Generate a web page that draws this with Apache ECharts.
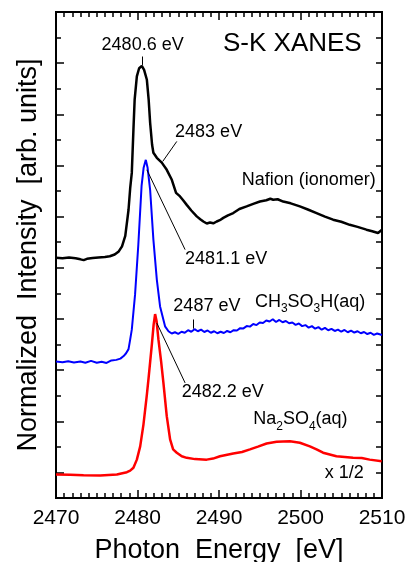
<!DOCTYPE html>
<html>
<head>
<meta charset="utf-8">
<script src="https://cdn.jsdelivr.net/npm/echarts@6/dist/echarts.min.js"></script>
<style>
html, body { margin: 0; padding: 0; background: #fff; }
#container { width: 406px; height: 562px; }
</style>
</head>
<body>
<div id="container"></div>
<script>
/* S-K XANES spectra: [photon energy eV, normalized intensity (offset, 1 unit = one y tick)] */
var nafion = [[2470.0,8.39],[2470.8,8.37],[2471.6,8.40],[2472.4,8.37],[2473.0,8.33],[2473.4,8.30],[2473.8,8.35],[2474.5,8.38],[2475.2,8.40],[2476.0,8.42],[2476.6,8.45],[2477.2,8.52],[2477.7,8.64],[2478.1,8.84],[2478.5,9.25],[2478.9,10.27],[2479.1,11.1],[2479.3,11.71],[2479.5,13.39],[2479.65,14.57],[2479.92,15.48],[2480.2,15.80],[2480.53,15.89],[2480.81,15.74],[2481.15,15.35],[2481.37,14.57],[2481.55,13.67],[2481.79,12.81],[2481.95,12.50],[2482.37,12.30],[2482.98,12.11],[2483.59,11.83],[2484.21,11.44],[2484.73,10.93],[2485.22,10.79],[2485.6,10.64],[2486.04,10.46],[2486.6,10.24],[2487.27,10.01],[2487.7,9.90],[2488.08,9.81],[2488.5,9.73],[2488.9,9.77],[2489.3,9.74],[2489.72,9.81],[2490.1,9.86],[2490.53,9.95],[2491.1,10.05],[2491.75,10.14],[2492.5,10.30],[2493.39,10.40],[2494.2,10.50],[2495.02,10.59],[2495.8,10.64],[2496.3,10.70],[2496.65,10.66],[2497.2,10.68],[2497.88,10.59],[2498.8,10.52],[2499.92,10.40],[2500.9,10.28],[2501.97,10.14],[2503.0,10.00],[2504.0,9.88],[2505.0,9.80],[2506.04,9.68],[2507.0,9.60],[2508.09,9.49],[2508.8,9.43],[2509.51,9.36],[2510.0,9.49]];
var ch3so3h = [[2470.0,4.34],[2470.8,4.31],[2471.5,4.35],[2472.2,4.30],[2473.0,4.34],[2473.6,4.29],[2474.3,4.36],[2475.0,4.29],[2475.6,4.33],[2476.2,4.28],[2476.8,4.38],[2477.4,4.40],[2477.9,4.45],[2478.3,4.55],[2478.6,4.66],[2478.9,4.82],[2479.1,5.19],[2479.3,5.58],[2479.7,6.95],[2480.1,8.90],[2480.5,11.2],[2480.75,11.91],[2481.02,12.22],[2481.24,11.91],[2481.55,11.05],[2481.95,9.10],[2482.37,7.54],[2482.77,6.49],[2483.38,5.71],[2483.8,5.52],[2484.2,5.43],[2484.6,5.48],[2485.0,5.42],[2485.4,5.50],[2485.8,5.46],[2486.2,5.56],[2486.6,5.50],[2487.0,5.60],[2487.4,5.52],[2487.8,5.58],[2488.2,5.49],[2488.6,5.55],[2489.0,5.46],[2489.4,5.52],[2489.8,5.44],[2490.2,5.50],[2490.6,5.45],[2491.0,5.53],[2491.4,5.48],[2491.8,5.56],[2492.2,5.55],[2492.6,5.64],[2493.0,5.63],[2493.4,5.72],[2493.8,5.70],[2494.2,5.80],[2494.6,5.76],[2495.0,5.86],[2495.4,5.84],[2495.8,5.94],[2496.2,5.90],[2496.6,5.99],[2497.0,5.88],[2497.4,5.96],[2497.8,5.87],[2498.2,5.92],[2498.6,5.83],[2499.0,5.86],[2499.4,5.77],[2499.8,5.82],[2500.2,5.72],[2500.6,5.76],[2501.0,5.66],[2501.4,5.72],[2501.8,5.62],[2502.2,5.68],[2502.6,5.58],[2503.0,5.65],[2503.4,5.56],[2503.8,5.61],[2504.2,5.53],[2504.6,5.58],[2505.0,5.50],[2505.4,5.57],[2505.8,5.48],[2506.2,5.54],[2506.6,5.47],[2507.0,5.52],[2507.4,5.44],[2507.8,5.49],[2508.2,5.41],[2508.6,5.46],[2509.0,5.38],[2509.4,5.43],[2510.0,5.37]];
var na2so4 = [[2470.0,-0.08],[2471.75,-0.09],[2473.38,-0.11],[2475.43,-0.12],[2477.47,-0.08],[2478.28,-0.02],[2478.7,0.01],[2479.1,0.07],[2479.5,0.18],[2479.92,0.50],[2480.33,1.02],[2480.73,1.87],[2481.15,3.04],[2481.34,3.63],[2481.76,5.00],[2481.98,5.78],[2482.16,6.19],[2482.35,5.90],[2482.57,5.19],[2482.9,4.33],[2483.18,3.50],[2483.59,2.20],[2484.0,1.29],[2484.37,0.90],[2484.82,0.77],[2485.43,0.63],[2486.04,0.57],[2487.06,0.52],[2488.49,0.50],[2489.27,0.54],[2490.12,0.63],[2491.75,0.74],[2492.82,0.80],[2493.8,0.90],[2494.78,1.01],[2495.84,1.13],[2497.07,1.20],[2498.7,1.22],[2499.92,1.16],[2501.15,1.02],[2501.97,0.90],[2502.77,0.77],[2504.41,0.63],[2506.45,0.57],[2507.51,0.56],[2508.49,0.50],[2509.96,0.44]];

var xTickLabels = [2470, 2480, 2490, 2500, 2510];
var peakLabels = ['2480.6 eV', '2483 eV', '2481.1 eV', '2487 eV', '2482.2 eV'];
var sampleLabels = ['Nafion (ionomer)', 'CH{s|3}SO{s|3}H(aq)', 'Na{s|2}SO{s|4}(aq)', 'x 1/2'];

var FONT = '"Liberation Sans", Arial, sans-serif';
var dom = document.getElementById('container');
var myChart = echarts.init(dom, null, { renderer: 'canvas' });

// 刻度位置（长刻度/短刻度）
function range(a, b, step) {
	var out = [];
	for (var v = a; v <= b; v += step) out.push(v);
	return out;
}
var xMinorTicks = range(2471, 2509, 1).filter(function(v) { return v % 10 !== 0; });
var xMajorTicks = [2480, 2490, 2500];
var yLongTicks = range(0, 16, 2);
var yShortTicks = range(1, 17, 2);
var yAllTicks = range(0, 17, 1);

function curve(name, data, color, width) {
	return {
		name: name,
		type: 'line',
		data: data,
		symbol: 'none',
		lineStyle: { color: color, width: width },
		animation: false
	};
}

function note(text, x, y, align, size) {
	return {
		value: [x, y],
		label: {
			show: true,
			position: 'inside',
			formatter: text,
			align: align || 'left',
			verticalAlign: 'middle',
			color: '#000',
			opacity: 1,
			textBorderWidth: 0,
			fontSize: size || 18,
			fontFamily: FONT,
			rich: {
				s: { fontSize: 12, fontFamily: FONT, color: '#000', textBorderWidth: 0, padding: [14, 0, 0, 0] }
			}
		}
	};
}

function leader(a, b) {
	return [{ coord: a }, { coord: b }];
}

function xAxisOf(position, ticks, len, extra) {
	return Object.assign({
		type: 'value',
		position: position,
		min: 2470,
		max: 2510,
		interval: 10,
		axisLine: { show: true, onZero: false, lineStyle: { color: '#000', width: 2 } },
		axisTick: { show: true, inside: true, length: len, customValues: ticks, lineStyle: { color: '#000', width: 1.5 } },
		axisLabel: { show: false },
		splitLine: { show: false }
	}, extra || {});
}

function yAxisOf(position, ticks, len, extra) {
	return Object.assign({
		type: 'value',
		position: position,
		min: -1,
		max: 18,
		axisLine: { show: true, onZero: false, lineStyle: { color: '#000', width: 2 } },
		axisTick: { show: true, inside: true, length: len, customValues: ticks, lineStyle: { color: '#000', width: 1.5 } },
		axisLabel: { show: false },
		splitLine: { show: false }
	}, extra || {});
}

var option = {
	backgroundColor: '#fff',
	animation: false,
	grid: { left: 56, top: 12, width: 326, height: 486, containLabel: false, outerBoundsMode: 'none' },
	xAxis: [
		xAxisOf('bottom', xMajorTicks, 8, {
			axisLabel: {
				show: true, color: '#000', fontSize: 21, fontFamily: FONT, margin: 10,
				customValues: xTickLabels,
				formatter: function(v) { return String(v); }
			},
			name: 'Photon  Energy  [eV]',
			nameLocation: 'middle',
			nameGap: 39,
			nameTextStyle: { color: '#000', fontSize: 27, fontFamily: FONT }
		}),
		xAxisOf('bottom', xMinorTicks, 5),
		xAxisOf('top', xMajorTicks, 8),
		xAxisOf('top', xMinorTicks, 5)
	],
	yAxis: [
		yAxisOf('left', yLongTicks, 8, {
			name: 'Normalized  Intensity  [arb. units]',
			nameLocation: 'middle',
			nameGap: 14,
			nameTextStyle: { color: '#000', fontSize: 27, fontFamily: FONT }
		}),
		yAxisOf('left', yShortTicks, 5),
		yAxisOf('right', yAllTicks, 6)
	],
	series: [
		curve('Nafion', nafion, '#000000', 2.5),
		curve('CH3SO3H', ch3so3h, '#0000ff', 2),
		curve('Na2SO4', na2so4, '#ff0000', 2.5),
		{
			//标注文字与引线
			name: 'notes',
			type: 'scatter',
			symbolSize: 0,
			silent: true,
			animation: false,
			itemStyle: { opacity: 1 },
			z: 5,
			data: [
				note('S-K XANES', 2499.0, 16.75, 'center', 26),
				note(peakLabels[0], 2480.63, 16.71, 'center'),
				note(peakLabels[1], 2484.61, 13.30),
				note(sampleLabels[0], 2492.78, 11.42),
				note(peakLabels[2], 2485.84, 8.36),
				note(peakLabels[3], 2484.40, 6.52),
				note(sampleLabels[1], 2494.41, 6.66),
				note(peakLabels[4], 2485.43, 3.14),
				note(sampleLabels[2], 2494.20, 2.07),
				note(sampleLabels[3], 2502.98, -0.04)
			],
			markLine: {
				silent: true,
				symbol: 'none',
				animation: false,
				label: { show: false },
				lineStyle: { color: '#000', width: 1, type: 'solid' },
				data: [
					leader([2480.53, 16.26], [2480.53, 15.93]),
					leader([2484.82, 12.94], [2483.10, 12.16]),
					leader([2481.15, 11.83], [2485.84, 8.71]),
					leader([2486.8, 5.98], [2486.8, 5.62]),
					leader([2482.37, 5.84], [2485.84, 3.50])
				]
			}
		}
	]
};

myChart.setOption(option);
</script>
</body>
</html>
